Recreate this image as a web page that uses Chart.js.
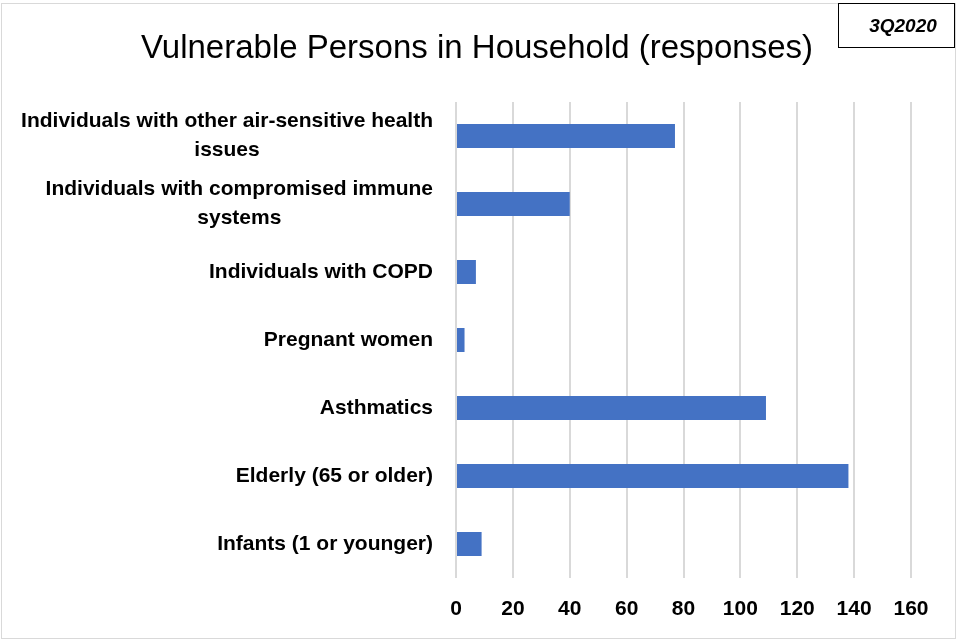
<!DOCTYPE html>
<html>
<head>
<meta charset="utf-8">
<title>Vulnerable Persons in Household (responses)</title>
<script src="https://cdn.jsdelivr.net/npm/chart.js@4/dist/chart.umd.min.js"></script>
<style>
  html, body { margin: 0; padding: 0; background: #ffffff; }
  canvas { display: block; }
</style>
</head>
<body>
<canvas id="chart" width="956" height="640"></canvas>
<script>
// Categories (top to bottom), each given as its wrapped text lines
const categories = [
  ["Individuals with other air-sensitive health", "issues"],
  ["Individuals with compromised immune", "systems"],
  ["Individuals with COPD"],
  ["Pregnant women"],
  ["Asthmatics"],
  ["Elderly (65 or older)"],
  ["Infants (1 or younger)"]
];
const responses = [77, 40, 7, 3, 109, 138, 9];
const xTicks = [0, 20, 40, 60, 80, 100, 120, 140, 160];
const chartTitle = "Vulnerable Persons in Household (responses)";
const periodLabel = "3Q2020";

const FONT = "'Liberation Sans', Arial, sans-serif";

// Frame, title, period badge and wrapped category labels
const decorations = {
  id: 'decorations',
  beforeDraw(chart) {
    const ctx = chart.ctx;
    ctx.save();
    ctx.fillStyle = '#ffffff';
    ctx.fillRect(0, 0, chart.width, chart.height);
    ctx.restore();
  },
  afterDraw(chart) {
    const ctx = chart.ctx;
    const area = chart.chartArea;
    const yScale = chart.scales.y;
    ctx.save();

    // outer frame
    ctx.strokeStyle = '#d9d9d9';
    ctx.lineWidth = 1;
    ctx.strokeRect(1.5, 3.5, chart.width - 2, chart.height - 5);

    // title
    ctx.fillStyle = '#000000';
    ctx.font = `33px ${FONT}`;
    ctx.textAlign = 'center';
    ctx.textBaseline = 'alphabetic';
    ctx.fillText(chartTitle, 477, 58);

    // period badge
    ctx.fillStyle = '#ffffff';
    ctx.fillRect(838, 3, 117, 44);
    ctx.strokeStyle = '#000000';
    ctx.lineWidth = 1;
    ctx.strokeRect(838.5, 3.5, 116, 44);
    ctx.fillStyle = '#000000';
    ctx.font = `italic bold 19px ${FONT}`;
    ctx.textAlign = 'center';
    ctx.textBaseline = 'middle';
    ctx.fillText(periodLabel, 903, 27);

    // category labels: block right-aligned to the axis, lines centred within the block
    ctx.font = `bold 21px ${FONT}`;
    ctx.textBaseline = 'middle';
    ctx.textAlign = 'center';
    const right = area.left - 23;
    const lineGap = 29;
    categories.forEach((lines, i) => {
      const cy = yScale.getPixelForValue(i);
      const widths = lines.map(l => ctx.measureText(l).width);
      const blockW = Math.max(...widths);
      const cx = right - blockW / 2;
      const y0 = cy - (lines.length - 1) * lineGap / 2;
      lines.forEach((l, j) => ctx.fillText(l, cx, y0 + j * lineGap));
    });

    ctx.restore();
  }
};

new Chart(document.getElementById('chart'), {
  type: 'bar',
  data: {
    labels: categories,
    datasets: [{
      data: responses,
      backgroundColor: '#4472c4',
      borderWidth: 0,
      barPercentage: 0.353,
      categoryPercentage: 1
    }]
  },
  options: {
    indexAxis: 'y',
    responsive: false,
    animation: false,
    devicePixelRatio: 1,
    layout: { padding: { left: 456, right: 45, top: 102, bottom: 0 } },
    plugins: {
      legend: { display: false },
      tooltip: { enabled: false },
      title: { display: false }
    },
    scales: {
      y: {
        display: false
      },
      x: {
        min: xTicks[0],
        max: xTicks[xTicks.length - 1],
        afterBuildTicks(scale) {
          scale.ticks = xTicks.map(v => ({ value: v }));
        },
        afterFit(scale) {
          scale.height = 62;
        },
        grid: { color: '#d9d9d9', lineWidth: 2, drawTicks: false },
        border: { display: false },
        ticks: {
          color: '#000000',
          padding: 19,
          font: { family: FONT, size: 21, weight: 'bold' }
        }
      }
    }
  },
  plugins: [decorations]
});
</script>
</body>
</html>
